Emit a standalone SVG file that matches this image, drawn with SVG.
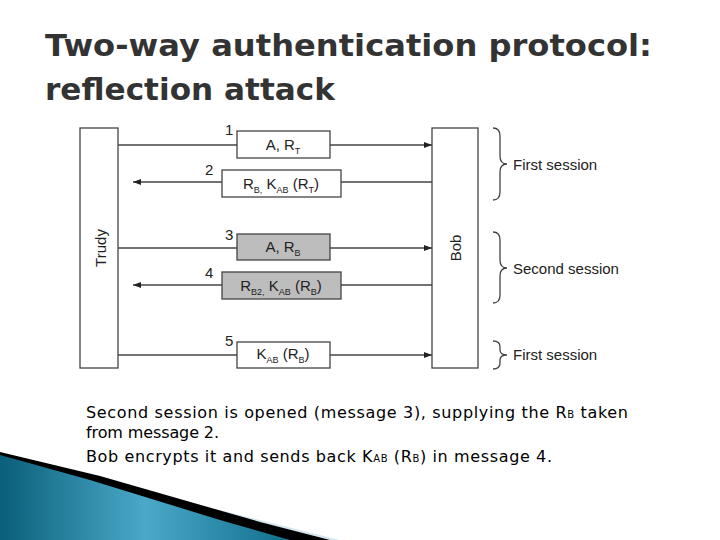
<svg xmlns="http://www.w3.org/2000/svg" width="720" height="540" viewBox="0 0 720 540">
<defs>
<style>
.t{font-family:"DejaVu Sans",sans-serif;font-weight:bold;font-size:31px;fill:#333}
.d{font-family:"Liberation Sans",Arial,sans-serif;font-size:15px;fill:#222}
.s{font-size:9px}
.p{font-family:"DejaVu Sans",sans-serif;font-size:16px;fill:#000}
.box{fill:#fff;stroke:#444;stroke-width:1.3}
.g{fill:#bdbdbd;stroke:#444;stroke-width:1.3}
.ln{stroke:#444;stroke-width:1.3;fill:none}
</style>
<marker id="a" markerWidth="8" markerHeight="6" refX="8" refY="3" orient="auto" markerUnits="userSpaceOnUse"><path d="M0,0 L8,3 L0,6Z" fill="#222"/></marker>
<linearGradient id="sw" x1="0" y1="0" x2="1" y2="0"><stop offset="0" stop-color="#0a5f7a"/><stop offset="0.5" stop-color="#4aa9c8"/><stop offset="1" stop-color="#0f6f8c"/></linearGradient>
</defs>
<rect width="720" height="540" fill="#fff"/>
<text class="t" x="45" y="56" textLength="607" lengthAdjust="spacingAndGlyphs">Two-way authentication protocol:</text>
<text class="t" x="45" y="100" textLength="290" lengthAdjust="spacingAndGlyphs">reflection attack</text>

<g id="connectors">
<line class="ln" x1="118" y1="145" x2="237" y2="145"/><line class="ln" x1="330" y1="145" x2="432" y2="145" marker-end="url(#a)"/>
<line class="ln" x1="432" y1="182" x2="341" y2="182"/><line class="ln" x1="222" y1="182" x2="133" y2="182" marker-end="url(#a)"/>
<line class="ln" x1="118" y1="248" x2="237" y2="248"/><line class="ln" x1="330" y1="248" x2="432" y2="248" marker-end="url(#a)"/>
<line class="ln" x1="432" y1="285" x2="341" y2="285"/><line class="ln" x1="222" y1="285" x2="133" y2="285" marker-end="url(#a)"/>
<line class="ln" x1="118" y1="355" x2="237" y2="355"/><line class="ln" x1="330" y1="355" x2="432" y2="355" marker-end="url(#a)"/>
</g>
<g id="trudy"><rect class="box" x="80" y="128" width="38" height="240"/><text class="d" transform="translate(106,248) rotate(-90)" text-anchor="middle" font-size="17">Trudy</text></g>
<g id="bob"><rect class="box" x="432" y="128" width="46" height="240"/><text class="d" transform="translate(461,248) rotate(-90)" text-anchor="middle" font-size="17">Bob</text></g>
<g id="m1"><rect class="box" x="237" y="131" width="93" height="27"/><text class="d" x="225" y="135">1</text><text class="d" x="283" y="150" text-anchor="middle">A, R<tspan class="s" dy="4">T</tspan></text></g>
<g id="m2"><rect class="box" x="222" y="170" width="119" height="27"/><text class="d" x="205" y="175">2</text><text class="d" x="281" y="189" text-anchor="middle">R<tspan class="s" dy="4">B,</tspan><tspan dy="-4"> K</tspan><tspan class="s" dy="4">AB</tspan><tspan dy="-4"> (R</tspan><tspan class="s" dy="4">T</tspan><tspan dy="-4">)</tspan></text></g>
<g id="m3"><rect class="g" x="237" y="234" width="93" height="26"/><text class="d" x="225" y="240">3</text><text class="d" x="283" y="252" text-anchor="middle">A, R<tspan class="s" dy="4">B</tspan></text></g>
<g id="m4"><rect class="g" x="222" y="272" width="119" height="27" stroke-width="2"/><text class="d" x="205" y="278">4</text><text class="d" x="281" y="291" text-anchor="middle">R<tspan class="s" dy="4">B2,</tspan><tspan dy="-4"> K</tspan><tspan class="s" dy="4">AB</tspan><tspan dy="-4"> (R</tspan><tspan class="s" dy="4">B</tspan><tspan dy="-4">)</tspan></text></g>
<g id="m5"><rect class="box" x="237" y="342" width="93" height="26"/><text class="d" x="225" y="346">5</text><text class="d" x="283" y="359" text-anchor="middle">K<tspan class="s" dy="4">AB</tspan><tspan dy="-4"> (R</tspan><tspan class="s" dy="4">B</tspan><tspan dy="-4">)</tspan></text></g>

<g id="braces" class="ln" stroke-width="1.1">
<path d="M493,128 Q500,128 500,136 L500,156 Q500,164 507,164 Q500,164 500,172 L500,192 Q500,200 493,200"/>
<path d="M493,232 Q500,232 500,240 L500,260 Q500,268 507,268 Q500,268 500,276 L500,295 Q500,303 493,303"/>
<path d="M493,341 Q500,341 500,347 L500,350 Q500,355 507,355 Q500,355 500,360 L500,363 Q500,369 493,369"/>
</g>
<text class="d" x="513" y="170">First session</text>
<text class="d" x="513" y="274">Second session</text>
<text class="d" x="513" y="360">First session</text>

<text class="p" x="86" y="418" textLength="542" lengthAdjust="spacing">Second session is opened (message 3), supplying the R<tspan font-size="10">B</tspan> taken</text>
<text class="p" x="86" y="438" textLength="133" lengthAdjust="spacing">from message 2.</text>
<text class="p" x="86" y="462" textLength="466" lengthAdjust="spacing">Bob encrypts it and sends back K<tspan font-size="10">AB</tspan> (R<tspan font-size="10">B</tspan>) in message 4.</text>

<g id="swoosh">
<path d="M0,455 L60,470 L200,505 L340,540 L0,540Z" fill="#d6e8ef"/>
<path d="M0,452 L100,476 L260,522 L330,540 L0,540Z" fill="#000"/>
<path d="M0,455 L90,480 L220,520 L290,540 L0,540Z" fill="url(#sw)"/>
</g>
</svg>
